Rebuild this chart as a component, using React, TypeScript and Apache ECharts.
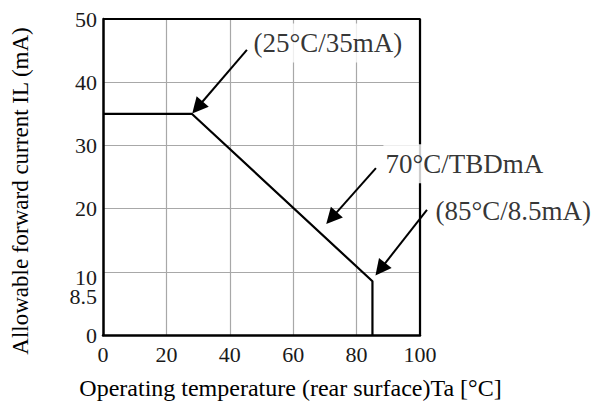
import React, { useEffect, useRef } from "react";
import * as echarts from "echarts";

const xTicks = [0, 20, 40, 60, 80, 100];
const yTicks = [0, 10, 20, 30, 40, 50];
const yExtraTick = 8.5;
const deratingCurve: [number, number][] = [
  [0, 35],
  [28, 35],
  [85, 8.5],
  [85, 0],
];
const arrowTails: [number, number][] = [
  [45.4, 45.1],
  [86.1, 26.4],
  [102.2, 19.8],
];
const arrowHeads: [number, number][] = [
  [29.8, 36.0],
  [72.1, 18.5],
  [87.5, 10.4],
];
const annotationTexts = ["(25°C/35mA)", "70°C/TBDmA", "(85°C/8.5mA)"];
const annotationAnchors: [number, number][] = [
  [46.7, 46.2],
  [88.3, 27.1],
  [104.1, 19.6],
];
const xAxisTitle = "Operating temperature (rear surface)Ta [°C]";
const yAxisTitle = "Allowable forward current IL (mA)";

const FONT = '"Liberation Serif", "Times New Roman", serif';

export default function App() {
  const ref = useRef<HTMLDivElement>(null);
  useEffect(() => {
    document.body.style.margin = "0";
    if (!ref.current) return;
    const chart = echarts.init(ref.current, undefined, { renderer: "svg" });
    const yLabelValues = [...yTicks, yExtraTick].sort((a, b) => a - b);
    chart.setOption({
      animation: false,
      grid: { left: 103, right: 175, top: 19, bottom: 73, show: false },
      xAxis: {
        type: "value",
        min: xTicks[0],
        max: xTicks[xTicks.length - 1],
        interval: 20,
        name: xAxisTitle,
        nameLocation: "middle",
        nameGap: 41,
        nameTextStyle: {
          fontFamily: FONT,
          fontSize: 24,
          color: "#000",
          padding: [0, 0, 0, 58],
        },
        axisLine: { show: true, lineStyle: { color: "#000", width: 2.5 } },
        axisTick: { show: false },
        axisLabel: {
          fontFamily: FONT,
          fontSize: 22,
          color: "#1a1a1a",
          margin: 8,
        },
        splitLine: { show: true, lineStyle: { color: "#a8a8a8", width: 1.2 } },
      },
      yAxis: {
        type: "value",
        min: yTicks[0],
        max: yTicks[yTicks.length - 1],
        interval: 10,
        name: yAxisTitle,
        nameLocation: "middle",
        nameGap: 71,
        nameTextStyle: {
          fontFamily: FONT,
          fontSize: 23,
          color: "#000",
          padding: [0, 28, 0, 0],
        },
        axisLine: { show: true, lineStyle: { color: "#000", width: 2.5 } },
        axisTick: { show: false },
        axisLabel: {
          customValues: yLabelValues,
          fontFamily: FONT,
          fontSize: 22,
          color: "#1a1a1a",
          margin: 6,
          formatter: (v: number) =>
            v === 10 ? "{lo|10}" : v === yExtraTick ? "{lo2|8.5}" : String(v),
          rich: {
            lo: {
              fontFamily: FONT,
              fontSize: 22,
              lineHeight: 18,
              color: "#1a1a1a",
              padding: [11, 0, 0, 0],
            },
            lo2: {
              fontFamily: FONT,
              fontSize: 22,
              lineHeight: 18,
              color: "#1a1a1a",
              padding: [31, 0, 0, 0],
            },
          },
        },
        splitLine: { show: true, lineStyle: { color: "#a8a8a8", width: 1.2 } },
      },
      series: [
        {
          type: "line",
          data: deratingCurve,
          symbol: "none",
          lineStyle: { color: "#000", width: 2.2 },
          itemStyle: { color: "#000" },
          silent: true,
        },
        {
          type: "line",
          data: [
            [xTicks[0], yTicks[yTicks.length - 1]],
            [xTicks[xTicks.length - 1], yTicks[yTicks.length - 1]],
            [xTicks[xTicks.length - 1], yTicks[0]],
          ],
          symbol: "none",
          lineStyle: { color: "#000", width: 2.2 },
          silent: true,
          z: 1,
        },
        {
          type: "lines",
          coordinateSystem: "cartesian2d",
          clip: false,
          silent: true,
          symbol: ["none", "triangle"],
          symbolSize: 16,
          itemStyle: { color: "#000" },
          lineStyle: { color: "#000", width: 2, opacity: 1, curveness: 0 },
          z: 3,
          data: arrowTails.map((t, i) => ({ coords: [t, arrowHeads[i]] })),
        },
        {
          type: "scatter",
          clip: false,
          silent: true,
          symbolSize: 1,
          itemStyle: { color: "rgba(0,0,0,0)" },
          data: annotationAnchors.map((a, i) => [a[0], a[1], annotationTexts[i]]),
          z: 5,
          label: {
            show: true,
            position: "right",
            distance: 0,
            formatter: (p: any) => p.value[2],
            fontFamily: FONT,
            fontSize: 27,
            lineHeight: 27,
            color: "#000",
            backgroundColor: "#fff",
            padding: [6, 2, 6, 2],
          },
        },
      ],
    });
    return () => chart.dispose();
  }, []);
  return <div ref={ref} style={{ width: 595, height: 408 }} />;
}
